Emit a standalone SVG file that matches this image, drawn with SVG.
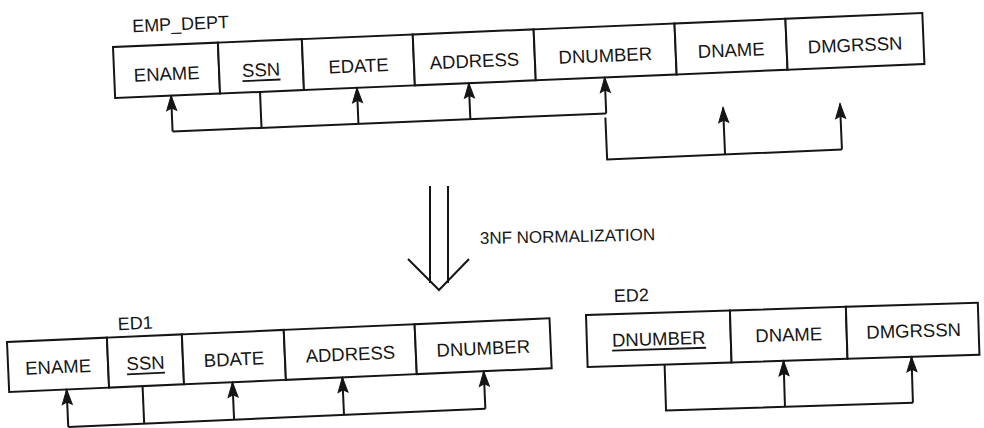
<svg xmlns="http://www.w3.org/2000/svg" width="984" height="428" viewBox="0 0 984 428">
<style>
.cell{fill:#fff;stroke:#151515;stroke-width:2}
.t{font-family:"Liberation Sans",Arial,sans-serif;font-size:18.5px;fill:#151515;text-anchor:middle}
.lbl{font-family:"Liberation Sans",Arial,sans-serif;font-size:18px;fill:#151515}
.ul{stroke:#151515;stroke-width:1.8}
.c{fill:none;stroke:#151515;stroke-width:2}
.a{fill:none;stroke:#151515;stroke-width:2;marker-end:url(#ah)}
</style>
<defs>
<marker id="ah" markerUnits="userSpaceOnUse" markerWidth="20" markerHeight="14" refX="0" refY="0" orient="auto" overflow="visible">
<path d="M0,0 L-15,-5 L-12.5,0 L-15,5 Z" fill="#151515" stroke="#151515" stroke-width="1"/>
</marker>
</defs>
<rect width="984" height="428" fill="#fff"/>

<g id="EMP_DEPT" transform="translate(113,47) rotate(-2.4)">
<text class="lbl" x="20" y="-14">EMP_DEPT</text>
<g id="emp_ename"><rect class="cell" x="0" y="0" width="105" height="51"/><text class="t" x="52.5" y="35.5">ENAME</text></g>
<g id="emp_ssn"><rect class="cell" x="105" y="0" width="84" height="51"/><text class="t" x="147" y="35.5">SSN</text><line class="ul" x1="128" y1="39.5" x2="166" y2="39.5"/></g>
<g id="emp_edate"><rect class="cell" x="189" y="0" width="111" height="51"/><text class="t" x="244.5" y="35.5">EDATE</text></g>
<g id="emp_address"><rect class="cell" x="300" y="0" width="121" height="51"/><text class="t" x="360.5" y="35.5">ADDRESS</text></g>
<g id="emp_dnumber"><rect class="cell" x="421" y="0" width="141" height="51"/><text class="t" x="491.5" y="35.5">DNUMBER</text></g>
<g id="emp_dname"><rect class="cell" x="562" y="0" width="111" height="51"/><text class="t" x="617.5" y="35.5">DNAME</text></g>
<g id="emp_dmgrssn"><rect class="cell" x="673" y="0" width="137" height="51"/><text class="t" x="741.5" y="35.5">DMGRSSN</text></g>
</g>

<g id="ED1" transform="translate(7,342) rotate(-2.5)">
<text class="lbl" x="129" y="-7" text-anchor="middle">ED1</text>
<g id="ed1_ename"><rect class="cell" x="0" y="0" width="100" height="50"/><text class="t" x="50" y="33.5">ENAME</text></g>
<g id="ed1_ssn"><rect class="cell" x="100" y="0" width="75" height="50"/><text class="t" x="137.5" y="33.5">SSN</text><line class="ul" x1="118.5" y1="37.5" x2="156.5" y2="37.5"/></g>
<g id="ed1_bdate"><rect class="cell" x="175" y="0" width="102" height="50"/><text class="t" x="226" y="33.5">BDATE</text></g>
<g id="ed1_address"><rect class="cell" x="277" y="0" width="131" height="50"/><text class="t" x="342.5" y="33.5">ADDRESS</text></g>
<g id="ed1_dnumber"><rect class="cell" x="408" y="0" width="135" height="50"/><text class="t" x="475.5" y="33.5">DNUMBER</text></g>
</g>

<g id="ED2" transform="translate(586,315) rotate(-1.8)">
<text class="lbl" x="28.4" y="-12">ED2</text>
<g id="ed2_dnumber"><rect class="cell" x="0" y="0" width="144" height="52"/><text class="t" x="72" y="32.5">DNUMBER</text><line class="ul" x1="25" y1="36.5" x2="119" y2="36.5"/></g>
<g id="ed2_dname"><rect class="cell" x="144" y="0" width="116" height="52"/><text class="t" x="202" y="32.5">DNAME</text></g>
<g id="ed2_dmgrssn"><rect class="cell" x="260" y="0" width="132" height="52"/><text class="t" x="327" y="32.5">DMGRSSN</text></g>
</g>

<g id="normalization">
<path class="c" d="M430,186 V283 M448,186 V283 M408,259 L439,290 L469,259"/>
<text x="480" y="244" transform="rotate(-1.2,480,244)" style="font-family:'Liberation Sans',Arial,sans-serif;font-size:17px;fill:#151515">3NF NORMALIZATION</text>
</g>

<g id="connectors">
<g transform="translate(113,47) rotate(-2.4)">
<path class="c" d="M56,87 H490"/>
<line class="a" x1="56" y1="87" x2="56" y2="51"/>
<line class="c" x1="145" y1="51" x2="145" y2="87"/>
<line class="a" x1="242" y1="87" x2="242" y2="51"/>
<line class="a" x1="354" y1="87" x2="354" y2="51"/>
<line class="a" x1="490" y1="87" x2="490" y2="51"/>
<path class="c" d="M489,91 V133 H724"/>
<line class="a" x1="607" y1="133" x2="607" y2="86"/>
<line class="a" x1="724" y1="133" x2="724" y2="87"/>
</g>
<g transform="translate(7,342) rotate(-2.5)">
<path class="c" d="M57.5,87.5 H475"/>
<line class="a" x1="57.5" y1="87.5" x2="57.5" y2="50"/>
<line class="c" x1="133.5" y1="50" x2="133.5" y2="87.5"/>
<line class="a" x1="223.5" y1="87.5" x2="223.5" y2="50"/>
<line class="a" x1="333.5" y1="87.5" x2="333.5" y2="50"/>
<line class="a" x1="475" y1="87.5" x2="475" y2="50"/>
</g>
<g transform="translate(586,315) rotate(-1.8)">
<path class="c" d="M77,52 V98 H324"/>
<line class="a" x1="196" y1="98" x2="196" y2="52"/>
<line class="a" x1="324" y1="98" x2="324" y2="52"/>
</g>
</g>
</svg>
